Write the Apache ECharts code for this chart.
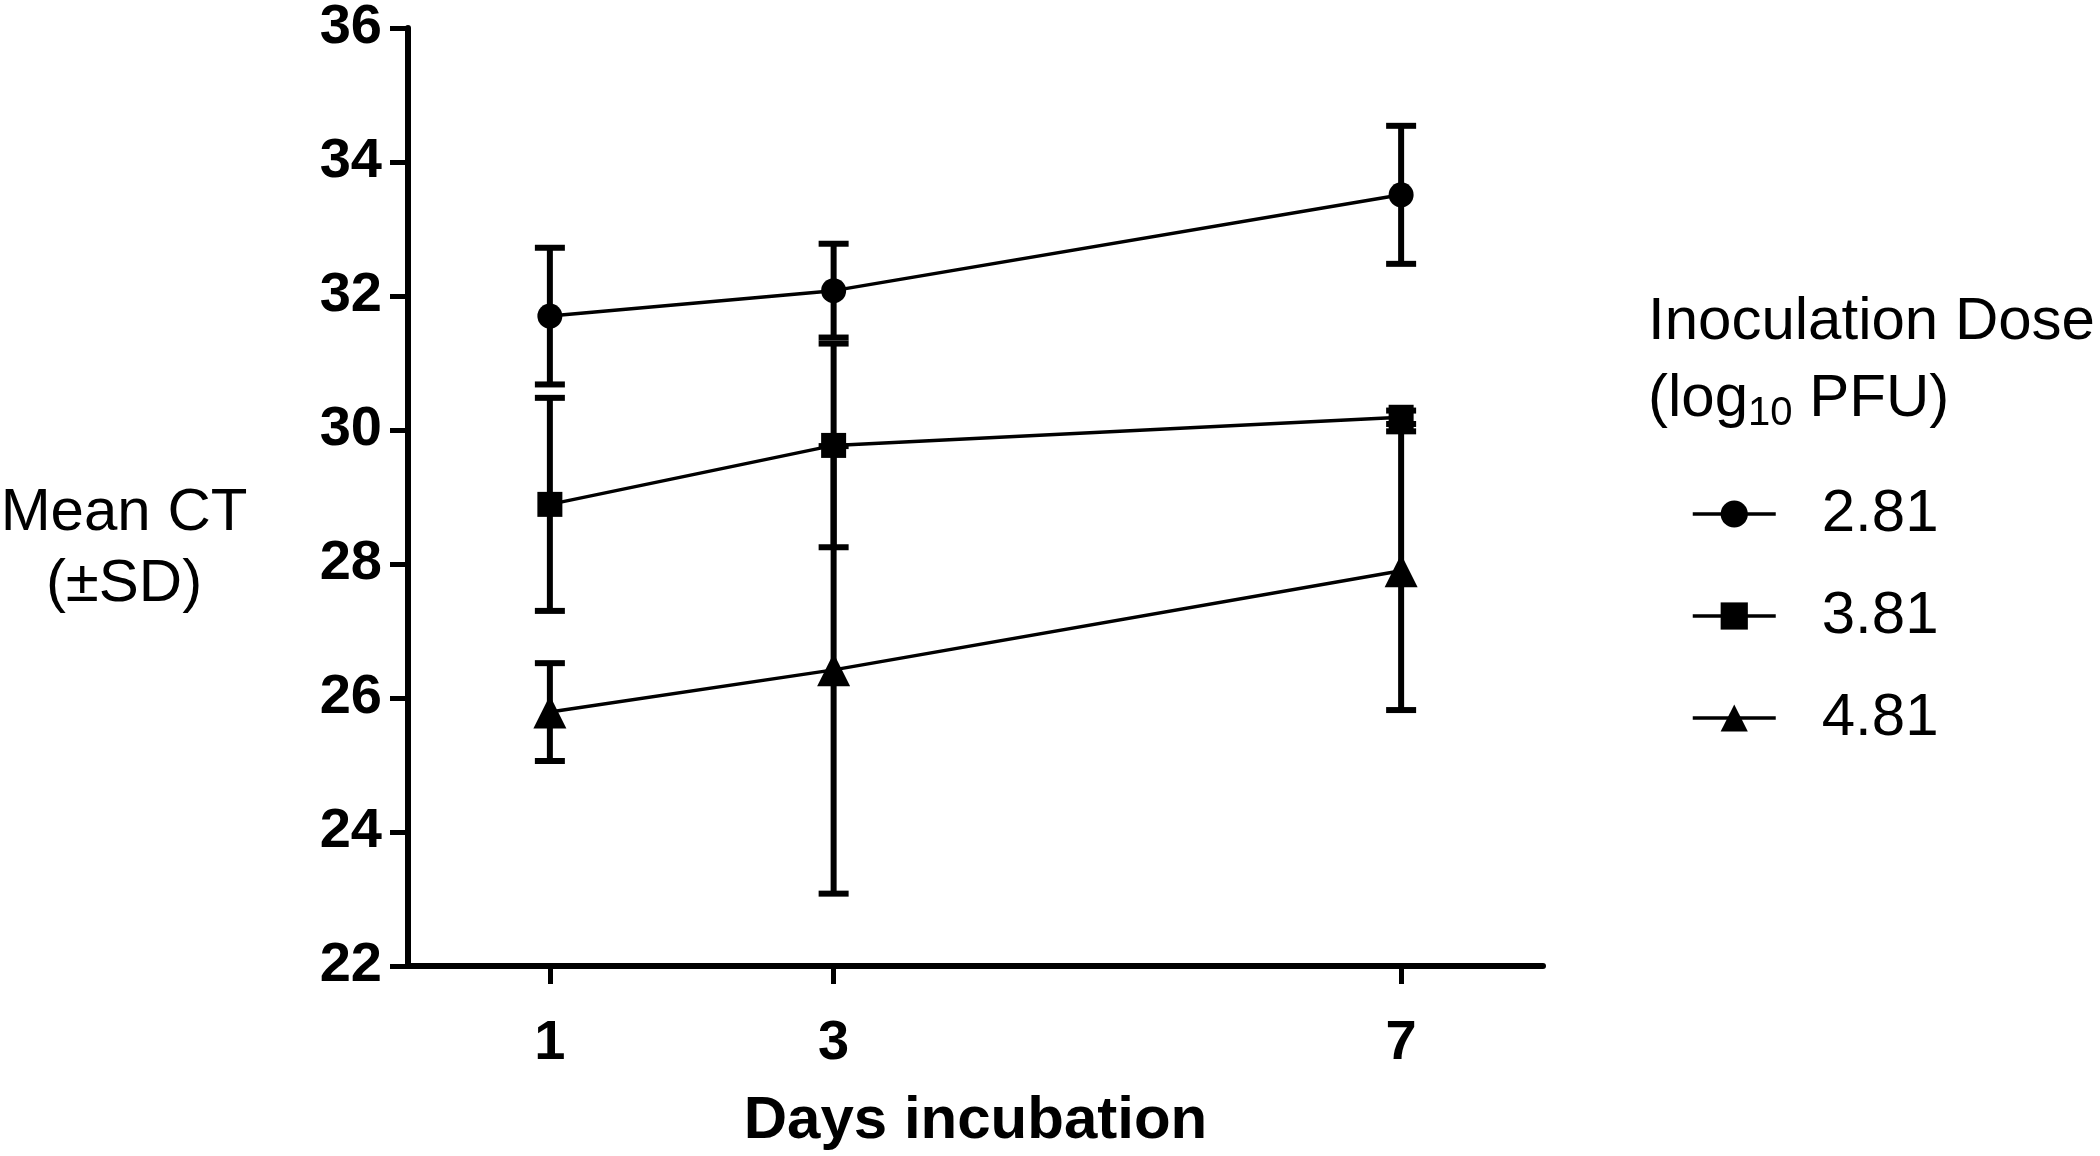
<!DOCTYPE html>
<html>
<head>
<meta charset="utf-8">
<title>Mean CT by days incubation</title>
<script src="https://cdn.jsdelivr.net/npm/echarts@6/dist/echarts.min.js"></script>
<style>
  html, body { margin: 0; padding: 0; background: #fff; }
  #main { width: 2100px; height: 1156px; }
</style>
</head>
<body>
<div id="main"></div>
<script>
// 数据
const days = [1, 3, 7];
const doseNames = ["2.81", "3.81", "4.81"];
const doseSymbols = ["circle", "rect", "triangle"];
const mean281 = [31.7, 32.08, 33.51];
const sd281 = [1.02, 0.7, 1.03];
const mean381 = [28.89, 29.77, 30.19];
const sd381 = [1.59, 1.52, 0.1];
const mean481 = [25.79, 26.42, 27.9];
const sd481 = [0.73, 3.34, 2.08];
const yTicks = [22, 24, 26, 28, 30, 32, 34, 36];

const means = [mean281, mean381, mean481];
const sds = [sd281, sd381, sd481];
const symbolSizes = [25, 25, 33];

const myChart = echarts.init(document.querySelector("#main"));

// 误差线
function errorBarItem(params, api) {
  const top = api.coord([api.value(0), api.value(2)]);
  const bottom = api.coord([api.value(0), api.value(1)]);
  const half = 15;
  const style = { stroke: "#000", lineWidth: 6 };
  return {
    type: "group",
    children: [
      { type: "line", shape: { x1: top[0], y1: top[1], x2: bottom[0], y2: bottom[1] }, style: style },
      { type: "line", shape: { x1: top[0] - half, y1: top[1], x2: top[0] + half, y2: top[1] }, style: style },
      { type: "line", shape: { x1: bottom[0] - half, y1: bottom[1], x2: bottom[0] + half, y2: bottom[1] }, style: style },
    ],
  };
}

const series = [];
doseNames.forEach((name, i) => {
  series.push({
    name: name,
    type: "line",
    data: days.map((d, j) => [d, means[i][j]]),
    symbol: doseSymbols[i],
    symbolSize: symbolSizes[i],
    showAllSymbol: true,
    lineStyle: { color: "#000", width: 3.5 },
    itemStyle: { color: "#000" },
    z: 3,
  });
});
doseNames.forEach((name, i) => {
  series.push({
    name: name + " SD",
    type: "custom",
    renderItem: errorBarItem,
    data: days.map((d, j) => [d, means[i][j] - sds[i][j], means[i][j] + sds[i][j]]),
    z: 2,
    silent: true,
  });
});

const option = {
  animation: false,
  backgroundColor: "#fff",
  textStyle: { fontFamily: "Liberation Sans, Arial, sans-serif", color: "#000" },
  grid: { left: 408, top: 24, right: 557, bottom: 189, containLabel: false },
  legend: {
    data: doseNames,
    orient: "vertical",
    left: 1686,
    top: 479,
    itemWidth: 83,
    itemHeight: 34,
    itemGap: 42,
    selectedMode: false,
    lineStyle: { width: 3.5, color: "#000" },
    textStyle: { fontSize: 60, color: "#000", padding: [0, 0, 0, 41] },
  },
  xAxis: {
    type: "value",
    min: 0,
    max: 8,
    interval: 1,
    name: "Days incubation",
    nameLocation: "middle",
    nameGap: 125,
    nameTextStyle: { fontSize: 60, fontWeight: "bold", color: "#000" },
    splitLine: { show: false },
    axisLine: { onZero: false, lineStyle: { color: "#000", width: 6 } },
    axisTick: { customValues: days, length: 18, lineStyle: { color: "#000", width: 5 } },
    axisLabel: { customValues: days, margin: 50, fontSize: 56, fontWeight: "bold", color: "#000" },
  },
  yAxis: {
    type: "value",
    min: 22,
    max: 36,
    interval: 2,
    splitLine: { show: false },
    axisLine: { show: true, lineStyle: { color: "#000", width: 6 } },
    axisTick: { show: true, customValues: yTicks, length: 18, lineStyle: { color: "#000", width: 5 } },
    axisLabel: { customValues: yTicks, margin: 26, fontSize: 56, fontWeight: "bold", color: "#000" },
  },
  graphic: [
    {
      type: "text",
      x: 124,
      y: 549,
      style: {
        text: "Mean CT\n(±SD)",
        fontSize: 60,
        lineHeight: 71,
        fontFamily: "Liberation Sans, Arial, sans-serif",
        fill: "#000",
        textAlign: "center",
        textVerticalAlign: "middle",
      },
    },
    {
      type: "text",
      x: 1648,
      y: 322,
      style: {
        text: "Inoculation Dose",
        fontSize: 60,
        fontFamily: "Liberation Sans, Arial, sans-serif",
        fill: "#000",
        textAlign: "left",
        textVerticalAlign: "middle",
      },
    },
    {
      type: "text",
      x: 1648,
      y: 399,
      style: {
        text: "{n|(log}{s|10}{n| PFU)}",
        fontFamily: "Liberation Sans, Arial, sans-serif",
        fill: "#000",
        textAlign: "left",
        textVerticalAlign: "middle",
        rich: {
          n: { fontSize: 60, lineHeight: 70, fontFamily: "Liberation Sans, Arial, sans-serif" },
          s: { fontSize: 40, lineHeight: 70, padding: [30, 0, 0, 0], fontFamily: "Liberation Sans, Arial, sans-serif" },
        },
      },
    },
  ],
  series: series,
};

myChart.setOption(option);
window.addEventListener("resize", () => {
  myChart.resize();
});
</script>
</body>
</html>
